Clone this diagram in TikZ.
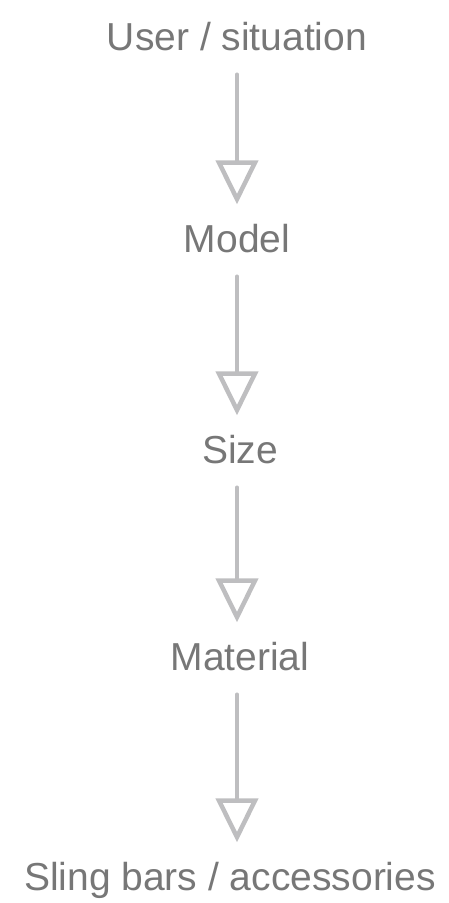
\documentclass[tikz,border=0pt]{standalone}
\usepackage{fontspec}
\setmainfont{Liberation Sans}
\usepackage{tikz}
\usepackage{xcolor}
\usetikzlibrary{arrows.meta}
\definecolor{inkgray}{HTML}{777777}
\definecolor{arrowgray}{HTML}{BEBEC0}
\tikzset{%
  tipA/.tip={Triangle[open,length=44pt,width=42pt]},
  steptext/.style={text=inkgray,font=\fontsize{39}{44}\selectfont,inner sep=0pt,text height=28pt,text depth=7pt},
  flowarrow/.style={arrowgray,line width=4.5pt,line cap=round,-tipA,shorten <=17pt,shorten >=20pt}
}

\begin{document}
\begin{tikzpicture}[x=1pt,y=-1pt]
\useasboundingbox (0,0) rectangle (448,903);
\node[steptext] (user) at (237,40) {User / situation};
\node[steptext] (model) at (237,242) {Model};
\node[steptext] (size) at (240,453) {Size};
\node[steptext] (material) at (240,660) {Material};
\node[steptext] (sling) at (230,880) {Sling bars / accessories};
\draw[flowarrow] (user.south) -- (user.south |- model.north);
\draw[flowarrow] (model.south) -- (model.south |- size.north);
\draw[flowarrow] (size.south -| model.south) -- (model.south |- material.north);
\draw[flowarrow] (material.south -| model.south) -- (model.south |- sling.north);
\end{tikzpicture}
\end{document}
